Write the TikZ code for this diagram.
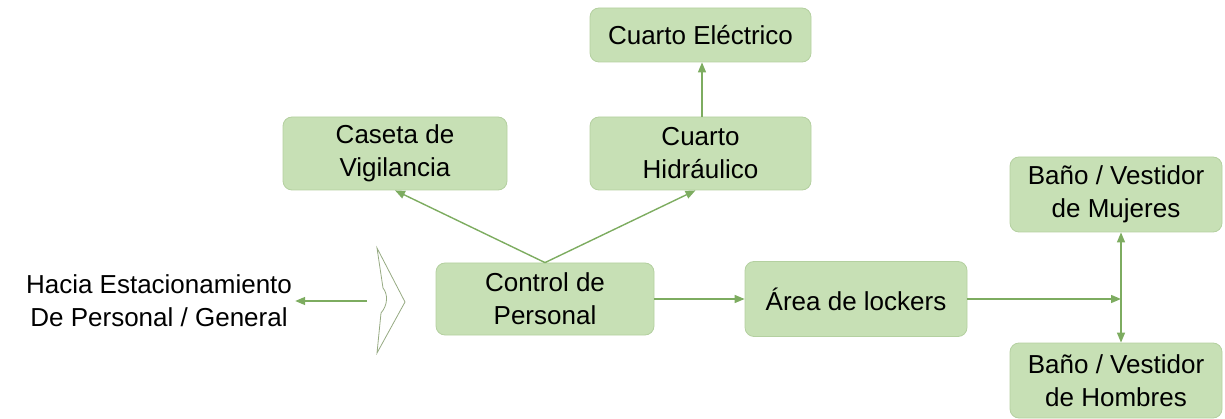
\documentclass[tikz,border=0pt]{standalone}
\usepackage{fontspec}
\setmainfont{Liberation Sans}
\usetikzlibrary{arrows.meta}
\definecolor{boxfill}{RGB}{199,224,181}
\definecolor{boxline}{RGB}{180,208,160}
\definecolor{linkgreen}{RGB}{125,172,96}
\definecolor{gateline}{RGB}{150,170,130}
\begin{document}
\begin{tikzpicture}[x=1pt, y=-1pt,
  room/.style={draw=boxline, fill=boxfill, rounded corners=9pt, line width=0.8pt,
    align=center, font=\fontsize{26}{33}\selectfont, inner sep=0pt},
  link/.style={draw=linkgreen, line width=1.4pt, -{Triangle[length=10pt, width=8pt]}}]
  \useasboundingbox (0,0) rectangle (1225,419);
  % Rooms
  \node[room, minimum width=221pt, minimum height=54pt] (elec) at (700.5,35) {Cuarto Eléctrico};
  \node[room, minimum width=224pt, minimum height=73pt] (caseta) at (395,153.5) {Caseta de\\Vigilancia};
  \node[room, minimum width=221pt, minimum height=73pt] (hidra) at (700.5,153.5) {Cuarto\\Hidráulico};
  \node[room, minimum width=218pt, minimum height=72pt] (control) at (545,299) {Control de\\Personal};
  \node[room, minimum width=222pt, minimum height=75pt] (lockers) at (856,299) {Área de lockers};
  \node[room, minimum width=212pt, minimum height=75pt] (mujeres) at (1116,194.5) {Baño / Vestidor\\de Mujeres};
  \node[room, minimum width=212pt, minimum height=75pt] (hombres) at (1116,380.5) {Baño / Vestidor\\de Hombres};
  % Exit text
  \node[align=center, font=\fontsize{26}{33}\selectfont, inner sep=3pt] (hacia) at (159,301)
    {Hacia Estacionamiento\\De Personal / General};
  % Gate
  \draw[gateline, line width=0.8pt] (377,248) -- (405,302) -- (377,353) -- (381,313)
    .. controls (388,305) and (388,294) .. (383,288) -- cycle;
  \coordinate (gate) at (367,301);
  \coordinate (split) at (1121,299);
  % Links
  \draw[link] (gate) -- (gate -| hacia.east);
  \draw[link] (control.north) -- (caseta.south);
  \draw[link] (control.north) -- ([xshift=-5pt]hidra.south);
  \draw[link] ([xshift=1.5pt]hidra.north) -- ([xshift=1.5pt]elec.south);
  \draw[link] (control.east) -- (lockers.west);
  \draw[link] (lockers.east) -- (split);
  \draw[link] (split) -- (split |- mujeres.south);
  \draw[link] (split) -- (split |- hombres.north);
\end{tikzpicture}
\end{document}
